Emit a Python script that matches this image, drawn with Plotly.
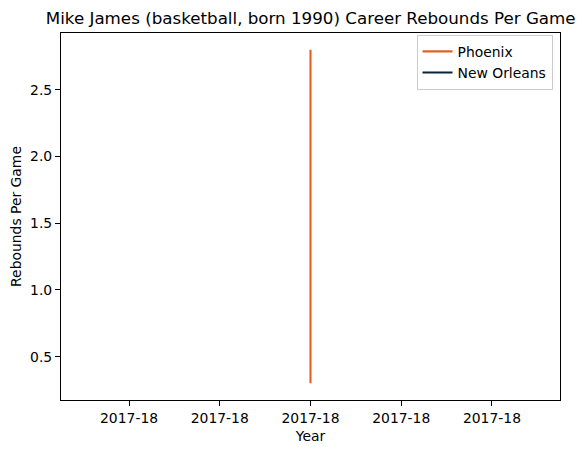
import plotly.graph_objects as go

seasons = ["2017-18"]
phoenix_seasons = ["2017-18", "2017-18"]
phoenix_rpg = [2.8, 0.3]
nola_seasons = ["2017-18"]
nola_rpg = [0.3]

tick_offsets = [-2, -1, 0, 1, 2]
tick_labels = ["2017-18"] * 5

def pos(s):
    return seasons.index(s)

FONT = "DejaVu Sans"
FS = 13.9
W, H = 577, 445  # page body adds an 8px margin
fig = go.Figure()
fig.add_trace(go.Scatter(x=[pos(s) for s in phoenix_seasons], y=phoenix_rpg, mode="lines",
                         name="Phoenix", line=dict(color="#E56020", width=2.1)))
fig.add_trace(go.Scatter(x=[pos(s) for s in nola_seasons], y=nola_rpg, mode="lines",
                         name="New Orleans", line=dict(color="#0C2340", width=2.1)))

axis_common = dict(showgrid=False, zeroline=False, showline=True, mirror=True,
                   linecolor="black", linewidth=1.1, ticks="outside", ticklen=5,
                   tickwidth=1.1, tickcolor="black", automargin=False,
                   tickfont=dict(family=FONT, size=FS, color="black"))

fig.update_layout(
    width=W, height=H,
    margin=dict(l=53, r=25, t=25, b=53, autoexpand=False),
    paper_bgcolor="white", plot_bgcolor="white",
    font=dict(family=FONT, size=FS, color="black"),
    title=dict(text="Mike James (basketball, born 1990) Career Rebounds Per Game",
               x=302.7 / W, xanchor="center", xref="container",
               y=1 - 10 / H, yanchor="middle", yref="container",
               font=dict(size=16.7, family=FONT, color="black")),
    xaxis=dict(range=[-2.75, 2.75], tickvals=tick_offsets, ticktext=tick_labels,
               title=dict(text="Year", standoff=6, font=dict(family=FONT, size=FS, color="black")),
               **axis_common),
    yaxis=dict(range=[0.175, 2.925], tickvals=[0.5, 1.0, 1.5, 2.0, 2.5],
               ticktext=["0.5", "1.0", "1.5", "2.0", "2.5"],
               title=dict(text="Rebounds Per Game", standoff=8, font=dict(family=FONT, size=FS, color="black")),
               **axis_common),
    legend=dict(x=0.985, xanchor="right", y=0.995, yanchor="top",
                bgcolor="white", bordercolor="#cccccc", borderwidth=1,
                itemwidth=30, font=dict(size=FS, family=FONT, color="black"),
                tracegroupgap=0),
    showlegend=True,
)

fig.write_html("out.html")
